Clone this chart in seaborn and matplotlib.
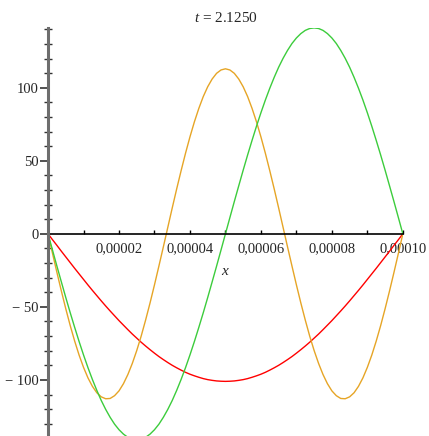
import pandas as pd
import matplotlib
matplotlib.use("Agg")
import matplotlib.pyplot as plt
import matplotlib.ticker as mticker
import seaborn as sns

# values, x step 1.25e-6 over [0, 1e-4]
x_vals = [i * 1.25e-6 for i in range(81)]

red_vals = [0, -4.0, -7.9, -11.9, -15.8, -19.7, -23.6, -27.4, -31.2, -35.0,
            -38.7, -42.3, -45.9, -49.4, -52.8, -56.1, -59.4, -62.5, -65.6, -68.6,
            -71.4, -74.2, -76.8, -79.3, -81.7, -84.0, -86.1, -88.1, -90.0, -91.7,
            -93.3, -94.8, -96.1, -97.2, -98.2, -99.1, -99.8, -100.3, -100.7, -100.9,
            -101.0,
            -100.9, -100.7, -100.3, -99.8, -99.1, -98.2, -97.2, -96.1, -94.8, -93.3,
            -91.7, -90.0, -88.1, -86.1, -84.0, -81.7, -79.3, -76.8, -74.2, -71.4,
            -68.6, -65.6, -62.5, -59.4, -56.1, -52.8, -49.4, -45.9, -42.3, -38.7,
            -35.0, -31.2, -27.4, -23.6, -19.7, -15.8, -11.9, -7.9, -4.0, 0]

green_vals = [0, -11.1, -22.1, -32.9, -43.6, -54.0, -64.0, -73.7, -82.9, -91.6,
              -99.7, -107.2, -114.1, -120.2, -125.6, -130.3, -134.1, -137.1, -139.3, -140.6,
              -141.0, -140.6, -139.3, -137.1, -134.1, -130.3, -125.6, -120.2, -114.1, -107.2,
              -99.7, -91.6, -82.9, -73.7, -64.0, -54.0, -43.6, -32.9, -22.1, -11.1,
              0,
              11.1, 22.1, 32.9, 43.6, 54.0, 64.0, 73.7, 82.9, 91.6, 99.7,
              107.2, 114.1, 120.2, 125.6, 130.3, 134.1, 137.1, 139.3, 140.6, 141.0,
              140.6, 139.3, 137.1, 134.1, 130.3, 125.6, 120.2, 114.1, 107.2, 99.7,
              91.6, 82.9, 73.7, 64.0, 54.0, 43.6, 32.9, 22.1, 11.1, 0]

orange_vals = [0, -13.3, -26.4, -39.1, -51.3, -62.8, -73.4, -83.0, -91.4, -98.6,
               -104.4, -108.8, -111.6, -112.9, -112.7, -110.8, -107.5, -102.6, -96.3, -88.7,
               -79.9, -70.0, -59.0, -47.3, -34.9, -22.0, -8.9, 4.4, 17.7, 30.7,
               43.2, 55.2, 66.4, 76.7, 85.9, 94.0, 100.7, 106.0, 109.9, 112.2,
               113.0,
               112.2, 109.9, 106.0, 100.7, 94.0, 85.9, 76.7, 66.4, 55.2, 43.2,
               30.7, 17.7, 4.4, -8.9, -22.0, -34.9, -47.3, -59.0, -70.0, -79.9,
               -88.7, -96.3, -102.6, -107.5, -110.8, -112.7, -112.9, -111.6, -108.8, -104.4,
               -98.6, -91.4, -83.0, -73.4, -62.8, -51.3, -39.1, -26.4, -13.3, 0]

x_ticks = [0.00002, 0.00004, 0.00006, 0.00008, 0.00010]
x_labels = ["0,00002", "0,00004", "0,00006", "0,00008", "0,00010"]
y_ticks = [-100, -50, 0, 50, 100]
y_labels = ["\u2212 100", "\u2212 50", "0", "50", "100"]

sns.set_style("white")
plt.rcParams["font.family"] = ["Liberation Serif", "DejaVu Serif"]
plt.rcParams["mathtext.fontset"] = "custom"
plt.rcParams["mathtext.it"] = "Liberation Serif:italic"
plt.rcParams["mathtext.rm"] = "Liberation Serif"

fig = plt.figure(figsize=(4.29, 4.36), dpi=100)
ax = fig.add_axes([0.112, 0.0, 0.827, 0.936])

df = pd.DataFrame({"x": x_vals, "red": red_vals, "green": green_vals, "orange": orange_vals})
sns.lineplot(data=df, x="x", y="red", color="#ff0000", lw=1.0, ax=ax)
sns.lineplot(data=df, x="x", y="orange", color="#e6a526", lw=1.0, ax=ax)
sns.lineplot(data=df, x="x", y="green", color="#3ccc3c", lw=1.0, ax=ax)

ax.set_xlim(0, 0.0001)
ax.set_ylim(-138.4, 141)

ax.spines["top"].set_visible(False)
ax.spines["right"].set_visible(False)
ax.spines["bottom"].set_position(("data", 0))
ax.spines["bottom"].set_color("black")
ax.spines["bottom"].set_linewidth(1.2)
ax.spines["left"].set_color("#6e6e6e")
ax.spines["left"].set_linewidth(2.2)
ax.spines["left"].set_zorder(5)

ax.xaxis.set_major_locator(mticker.FixedLocator(x_ticks))
ax.xaxis.set_major_formatter(mticker.FixedFormatter(x_labels))
ax.xaxis.set_minor_locator(mticker.MultipleLocator(0.00001))
ax.yaxis.set_major_locator(mticker.FixedLocator(y_ticks))
ax.yaxis.set_major_formatter(mticker.FixedFormatter(y_labels))
ax.yaxis.set_minor_locator(mticker.MultipleLocator(10))

ax.tick_params(axis="x", which="both", direction="in", length=3, width=1,
               color="black", labelsize=10.5, pad=6, bottom=True)
ax.tick_params(axis="y", which="major", direction="out", length=6, width=1.2,
               color="#333333", labelsize=10.5, pad=1, left=True)
ax.tick_params(axis="y", which="minor", direction="inout", length=6, width=1,
               color="#333333", left=True)

ax.set_xlabel("$x$", fontsize=11)
ax.xaxis.set_label_coords(0.5, 0.402)
ax.xaxis.label.set_va("center")
ax.set_ylabel("")
ax.set_title("$t$ = 2.1250", fontsize=11, pad=4)

fig.savefig("out.png", dpi=100)
